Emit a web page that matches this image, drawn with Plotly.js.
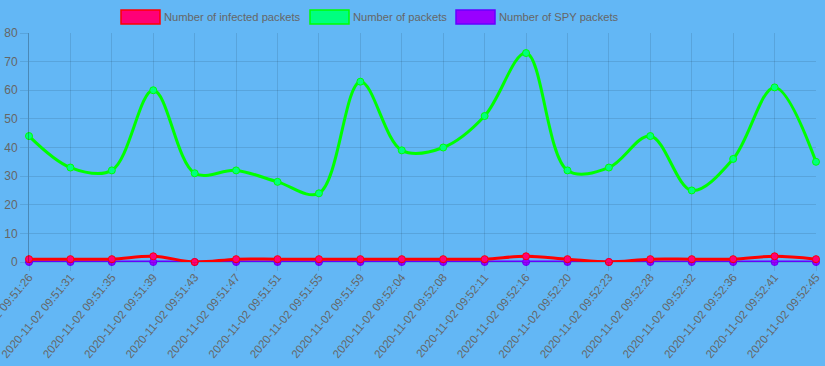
<!DOCTYPE html>
<html>
<head>
<meta charset="utf-8">
<script src="https://cdn.plot.ly/plotly-3.0.1.min.js"></script>
<style>
html,body{margin:0;padding:0;background:#63b7f5;}
#chart{width:825px;height:366px;}
</style>
</head>
<body>
<div id="chart"></div>
<script>
var labels = ["2020-11-02 09:51:26","2020-11-02 09:51:31","2020-11-02 09:51:35","2020-11-02 09:51:39","2020-11-02 09:51:43","2020-11-02 09:51:47","2020-11-02 09:51:51","2020-11-02 09:51:55","2020-11-02 09:51:59","2020-11-02 09:52:04","2020-11-02 09:52:08","2020-11-02 09:52:11","2020-11-02 09:52:16","2020-11-02 09:52:20","2020-11-02 09:52:23","2020-11-02 09:52:28","2020-11-02 09:52:32","2020-11-02 09:52:36","2020-11-02 09:52:41","2020-11-02 09:52:45"];
var infected = [1,1,1,2,0,1,1,1,1,1,1,1,2,1,0,1,1,1,2,1];
var packets = [44,33,32,60,31,32,28,24,63,39,40,51,73,32,33,44,25,36,61,35];
var spy = [0,0,0,0,0,0,0,0,0,0,0,0,0,0,0,0,0,0,0,0];
var seriesNames = ["Number of infected packets","Number of packets","Number of SPY packets"];

function tr(y, name, lineColor, fillColor) {
  return {
    x: labels, y: y, name: name, type: 'scatter', mode: 'lines+markers',
    line: {color: lineColor, width: 3, shape: 'spline', smoothing: 1},
    marker: {size: 7, color: fillColor, line: {color: lineColor, width: 1}},
    cliponaxis: false, showlegend: false
  };
}
var data = [
  tr(packets, seriesNames[1], '#00ff00', '#00ff7f'),
  tr(spy, seriesNames[2], '#6600ff', '#9900ff'),
  tr(infected, seriesNames[0], '#ff0000', '#ff0077')
];

var W = 825, H = 366;
var M = {l:29, r:9, t:33, b:104};
var PW = W - M.l - M.r, PH = H - M.t - M.b;
function px(x){return (x - M.l) / PW;}
function py(y){return (H - M.b - y) / PH;}
var legend = [
  {x0:121, x1:160, fill:'#ff0077', border:'#ff0000', tx:164, text:seriesNames[0]},
  {x0:310, x1:349, fill:'#00ff7f', border:'#00ff00', tx:353, text:seriesNames[1]},
  {x0:456, x1:495, fill:'#9900ff', border:'#6600ff', tx:499, text:seriesNames[2]}
];
var shapes = [], annotations = [];
legend.forEach(function(l){
  shapes.push({type:'rect', xref:'paper', yref:'paper', x0:px(l.x0), x1:px(l.x1), y0:py(24), y1:py(10),
    fillcolor:l.fill, line:{color:l.border, width:1.5}});
  annotations.push({xref:'paper', yref:'paper', x:px(l.tx), y:py(17), xanchor:'left', yanchor:'middle',
    text:l.text, showarrow:false, borderpad:0, xshift:-1,
    font:{family:'Liberation Sans, Arial, sans-serif', size:11.2, color:'#666'}});
});

var layout = {
  width: W, height: H,
  paper_bgcolor: '#63b7f5', plot_bgcolor: '#63b7f5',
  margin: {l:M.l, r:M.r, t:M.t, b:M.b, pad:0},
  font: {family:'Liberation Sans, Arial, sans-serif', size:12, color:'#666'},
  showlegend: false,
  xaxis: {
    type:'category', range:[0, labels.length-1], tickangle:-50,
    showgrid:true, gridcolor:'rgba(0,0,0,0.1)', gridwidth:1,
    ticks:'outside', ticklen:8, tickcolor:'rgba(0,0,0,0.1)',
    showline:true, linecolor:'rgba(0,0,0,0.1)', mirror:false,
    zeroline:false, automargin:false, ticklabelstandoff:-5,
    tickfont:{size:11.5, color:'#666'}
  },
  yaxis: {
    range:[0,80], dtick:10, tick0:0,
    showgrid:true, gridcolor:'rgba(0,0,0,0.1)', gridwidth:1,
    ticks:'outside', ticklen:8, tickcolor:'rgba(0,0,0,0.1)',
    showline:true, linecolor:'rgba(0,0,0,0.25)',
    zeroline:true, zerolinecolor:'rgba(0,0,0,0.25)', zerolinewidth:1,
    automargin:false, ticklabelstandoff:0,
    tickfont:{size:12, color:'#666'}
  },
  shapes: shapes,
  annotations: annotations
};
Plotly.newPlot('chart', data, layout, {displayModeBar:false, staticPlot:true});
</script>
</body>
</html>
